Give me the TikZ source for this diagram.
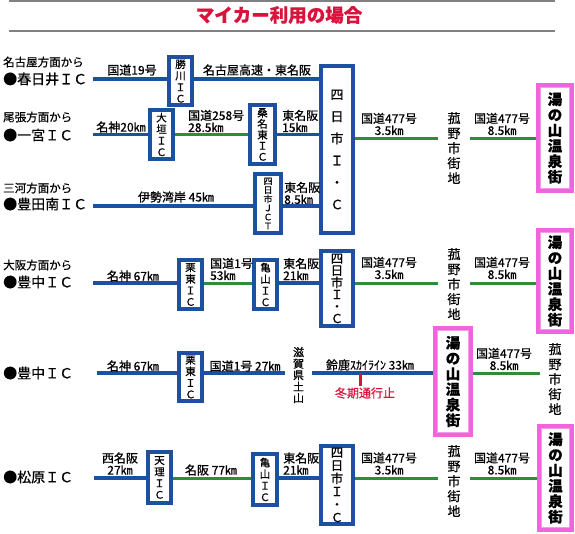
\documentclass[tikz,border=0pt]{standalone}
\usepackage{fontspec}
\setmainfont{Noto Sans CJK JP}[RawFeature={embolden=0.6}]
\definecolor{rblue}{RGB}{30,80,160}
\definecolor{rgreen}{RGB}{46,140,60}
\definecolor{rpink}{RGB}{240,100,220}
\definecolor{rred}{RGB}{215,20,60}
\definecolor{rgray}{RGB}{128,128,128}
\tikzset{
 blueline/.style={draw=rblue, line width=3.3pt},
 greenline/.style={draw=rgreen, line width=3pt},
 rule/.style={draw=rgray, line width=2pt},
 icbox/.style={draw=rblue, line width=3.8pt, fill=white, inner sep=0pt, align=center, minimum width=23.2pt, font=\fontsize{10.5}{11.5}\selectfont},
 bigbox/.style={draw=rblue, line width=4.2pt, fill=white, inner sep=0pt, align=center, minimum width=31.8pt},
 spabox/.style={draw=rpink, line width=4.5pt, fill=white, inner sep=0pt, align=center, minimum width=33.5pt, font=\bfseries\fontsize{14.5}{15.5}\selectfont},
 spainner/.style={draw=rpink!65, line width=1pt},
 vtown/.style={inner sep=0pt, align=center, minimum width=32pt, font=\fontsize{13}{15}\selectfont},
 lbl/.style={inner sep=0pt, align=center, font=\fontsize{12}{12}\selectfont},
 lbll/.style={lbl, align=left, anchor=west},
 origin/.style={anchor=west, inner sep=0pt, font=\fontsize{14}{14}\selectfont},
 dirl/.style={anchor=west, inner sep=0pt, font=\fontsize{11.5}{12}\selectfont},
 ttl/.style={inner sep=0pt, text=rred, font=\bfseries\fontsize{18.5}{19}\selectfont},
 warn/.style={inner sep=0pt, text=rred, font=\fontsize{12}{12}\selectfont},
 tick/.style={draw=rred, line width=3pt},
}
\begin{document}
\begin{tikzpicture}[x=1pt,y=-1pt]
\useasboundingbox (0,0) rectangle (575,533);
% header
\coordinate (h1a) at (9,1); \coordinate (h1b) at (555,1);
\coordinate (h2a) at (9,30.5); \coordinate (h2b) at (555,30.5);
\draw[rule] (h1a) -- (h1b);
\draw[rule] (h2a) -- (h2b);
\node[ttl] (title) at (279,15) {マイカー利用の場合};

% origins
\node[dirl] (d1) at (3,62) {名古屋方面から};
\node[origin] (o1) at (3,79) {●春日井ＩＣ};
\node[dirl] (d2) at (3,117) {尾張方面から};
\node[origin] (o2) at (3,135) {●一宮ＩＣ};
\node[dirl] (d3) at (3,188) {三河方面から};
\node[origin] (o3) at (3,204) {●豊田南ＩＣ};
\node[dirl] (d4) at (3,265) {大阪方面から};
\node[origin] (o4) at (3,282) {●豊中ＩＣ};
\node[origin] (o5) at (3,373) {●豊中ＩＣ};
\node[origin] (o6) at (3,477) {●松原ＩＣ};

\coordinate (s1) at (93,79);
\coordinate (s2) at (93,134.5);
\coordinate (s3) at (93,206);
\coordinate (s4) at (93,283);
\coordinate (s5) at (97,373);
\coordinate (s6) at (94,478);

% big boxes
\node[bigbox, minimum height=167pt, font=\fontsize{13}{22}\selectfont] (y1) at (337,149.5) {四\\日\\市\\Ｉ\\・\\Ｃ};
\node[bigbox, minimum height=75pt, font=\fontsize{12.5}{12}\selectfont] (y4) at (337,288.5) {四\\日\\市\\Ｉ\\・\\Ｃ};
\node[bigbox, minimum height=78pt, font=\fontsize{12.5}{13}\selectfont] (y6) at (337,485) {四\\日\\市\\Ｉ\\・\\Ｃ};

% IC boxes
\node[icbox, minimum height=48.2pt] (kc) at (180.5,81) {勝\\川\\Ｉ\\Ｃ};
\node[icbox, minimum height=49.2pt] (ogaki) at (161.5,134.5) {大\\垣\\Ｉ\\Ｃ};
\node[icbox, minimum width=25.2pt, minimum height=59.2pt, font=\fontsize{10.5}{11}\selectfont] (kuwana) at (262.5,134.5) {桑\\名\\東\\Ｉ\\Ｃ};
\node[icbox, minimum width=26.2pt, minimum height=59.2pt, font=\fontsize{9}{9}\selectfont] (jct) at (268,203.5) {四\\日\\市\\Ｊ\\Ｃ\\Ｔ};
\node[icbox, minimum height=49.2pt] (rt4) at (190.5,284.5) {栗\\東\\Ｉ\\Ｃ};
\node[icbox, minimum height=49.2pt] (km4) at (265.5,284.5) {亀\\山\\Ｉ\\Ｃ};
\node[icbox, minimum height=48.2pt] (rt5) at (190.5,377) {栗\\東\\Ｉ\\Ｃ};
\node[icbox, minimum height=51.2pt] (tenri) at (159.5,477.5) {天\\理\\Ｉ\\Ｃ};
\node[icbox, minimum width=24.2pt, minimum height=51.2pt] (km6) at (265,479.5) {亀\\山\\Ｉ\\Ｃ};

% spa boxes
\node[spabox, minimum height=105.5pt] (p1) at (555,138) {湯\\の\\山\\温\\泉\\街};
\node[spabox, minimum height=101.5pt] (p2) at (555,281) {湯\\の\\山\\温\\泉\\街};
\node[spabox, minimum width=35.5pt, minimum height=106.5pt] (p3) at (453,381.5) {湯\\の\\山\\温\\泉\\街};
\node[spabox, minimum width=32.5pt, minimum height=103.5pt] (p4) at (555.5,478) {湯\\の\\山\\温\\泉\\街};
\foreach \p in {p1,p2,p3,p4}{
  \draw[spainner] ([shift={(4.7,4.7)}]\p.north west) rectangle ([shift={(-4.7,-4.7)}]\p.south east);
}

% towns
\node[vtown] (k1) at (454,148) {菰\\野\\市\\街\\地};
\node[vtown] (k4) at (454,284) {菰\\野\\市\\街\\地};
\node[vtown] (k6) at (454,481) {菰\\野\\市\\街\\地};
\node[vtown, minimum width=30pt] (k5) at (555,379) {菰\\野\\市\\街\\地};
\node[vtown, minimum width=27pt, font=\fontsize{11}{11.5}\selectfont] (tsuchi) at (298.5,375) {滋\\賀\\県\\土\\山};

% row 1-3 connectors
\draw[blueline] (s1) -- (s1 -| kc.west);
\draw[blueline] (kc.east |- s1) -- (y1.west |- s1);
\draw[blueline] (s2) -- (s2 -| ogaki.west);
\draw[greenline] (ogaki.east |- s2) -- (kuwana.west |- s2);
\draw[blueline] (kuwana.east |- s2) -- (y1.west |- s2);
\draw[blueline] (s3) -- (s3 -| jct.west);
\draw[blueline] (jct.east |- s3) -- (y1.west |- s3);
\draw[greenline] (y1.east |- p1.center) -- (k1.west |- p1.center);
\draw[greenline] (k1.east |- p1.center) -- (p1.west);
% row 4
\draw[blueline] (s4) -- (s4 -| rt4.west);
\draw[greenline] (rt4.east |- s4) -- (km4.west |- s4);
\draw[blueline] (km4.east |- s4) -- (y4.west |- s4);
\draw[greenline] (y4.east |- s4) -- (k4.west |- s4);
\draw[greenline] (k4.east |- s4) -- (p2.west |- s4);
% row 5
\draw[blueline] (s5) -- (s5 -| rt5.west);
\draw[blueline] (rt5.east |- s5) -- (tsuchi.west |- s5);
\draw[blueline] (tsuchi.east |- s5) -- (p3.west |- s5);
\draw[greenline] (p3.east |- s5) -- (k5.west |- s5);
\coordinate (tk) at (360,386);
\draw[tick] (tk) -- (tk |- s5);
% row 6
\draw[blueline] (s6) -- (s6 -| tenri.west);
\draw[greenline] (tenri.east |- s6) -- (km6.west |- s6);
\draw[blueline] (km6.east |- s6) -- (y6.west |- s6);
\draw[greenline] (y6.east |- s6) -- (k6.west |- s6);
\draw[greenline] (k6.east |- s6) -- (p4.west |- s6);

% labels
\node[lbl] (l11) at (132,70) {国道19号};
\node[lbl] (l12) at (257,70) {名古屋高速・東名阪};
\node[lbl] (l21) at (121,127) {名神20㎞};
\node[lbll] (l22) at (188,121) {国道258号\\28.5㎞};
\node[lbll] (l23) at (282,121) {東名阪\\15㎞};
\node[lbl] (l31) at (176,197) {伊勢湾岸 45㎞};
\node[lbll] (l32) at (284,193) {東名阪\\8.5㎞};
\node[lbl] (r11) at (389,124) {国道477号\\3.5㎞};
\node[lbl] (r12) at (502,124) {国道477号\\8.5㎞};

\node[lbl] (l41) at (133,276) {名神 67㎞};
\node[lbll] (l42) at (210,269) {国道1号\\53㎞};
\node[lbll] (l43) at (283,269) {東名阪\\21㎞};
\node[lbl] (r41) at (389,268) {国道477号\\3.5㎞};
\node[lbl] (r42) at (502,268) {国道477号\\8.5㎞};

\node[lbl] (l51) at (133,366) {名神 67㎞};
\node[lbl] (l52) at (245,366) {国道1号 27㎞};
\node[lbl] (l53) at (370,365) {鈴鹿ｽｶｲﾗｲﾝ 33㎞};
\node[warn] (w5) at (365,393) {冬期通行止};
\node[lbl] (r51) at (504,359) {国道477号\\8.5㎞};

\node[lbl] (l61) at (120,463.5) {西名阪\\27㎞};
\node[lbl] (l62) at (211,470) {名阪 77㎞};
\node[lbll] (l63) at (283,463.5) {東名阪\\21㎞};
\node[lbl] (r61) at (389,463.5) {国道477号\\3.5㎞};
\node[lbl] (r62) at (502,463.5) {国道477号\\8.5㎞};
\end{tikzpicture}
\end{document}
